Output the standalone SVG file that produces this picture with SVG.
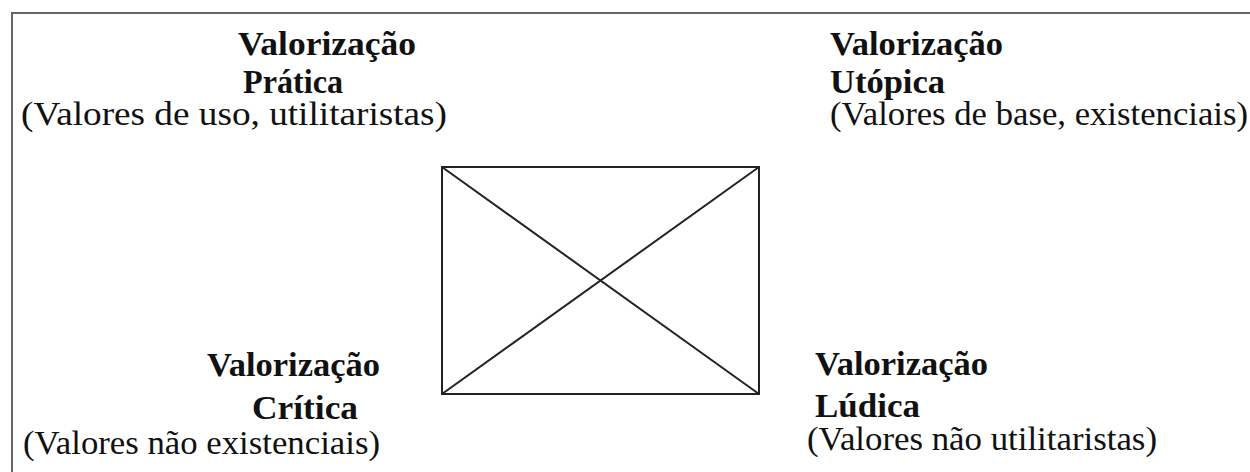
<svg xmlns="http://www.w3.org/2000/svg" width="1250" height="472" viewBox="0 0 1250 472">
  <style>
    text { font-family: "Liberation Serif", "Times New Roman", serif; font-size: 33px; fill: #111; }
    .title { font-weight: bold; }
    .frame { stroke: #666; stroke-width: 2; fill: none; }
    .edge { stroke: #222; stroke-width: 2; fill: none; }
  </style>
  <rect width="1250" height="472" fill="#fff"/>
  <!-- page frame: top and left edges -->
  <path class="frame" d="M12,472 V13 H1250"/>

  <g id="connectors">
    <rect class="edge" x="442" y="167" width="317" height="227"/>
    <line class="edge" x1="442" y1="167" x2="759" y2="394"/>
    <line class="edge" x1="759" y1="167" x2="442" y2="394"/>
  </g>

  <g id="pratica">
    <text class="title" x="238" y="55" textLength="178" lengthAdjust="spacingAndGlyphs">Valorização</text>
    <text class="title" x="243" y="93" textLength="100" lengthAdjust="spacingAndGlyphs">Prática</text>
    <text x="21" y="125" textLength="426" lengthAdjust="spacingAndGlyphs">(Valores de uso, utilitaristas)</text>
  </g>

  <g id="utopica">
    <text class="title" x="830" y="55" textLength="173" lengthAdjust="spacingAndGlyphs">Valorização</text>
    <text class="title" x="830" y="93" textLength="115" lengthAdjust="spacingAndGlyphs">Utópica</text>
    <text x="830" y="125" textLength="418" lengthAdjust="spacingAndGlyphs">(Valores de base, existenciais)</text>
  </g>

  <g id="critica">
    <text class="title" x="207" y="376" textLength="173" lengthAdjust="spacingAndGlyphs">Valorização</text>
    <text class="title" x="252" y="419" textLength="106" lengthAdjust="spacingAndGlyphs">Crítica</text>
    <text x="23" y="454" textLength="357" lengthAdjust="spacingAndGlyphs">(Valores não existenciais)</text>
  </g>

  <g id="ludica">
    <text class="title" x="815" y="375" textLength="173" lengthAdjust="spacingAndGlyphs">Valorização</text>
    <text class="title" x="815" y="417" textLength="105" lengthAdjust="spacingAndGlyphs">Lúdica</text>
    <text x="807" y="450" textLength="350" lengthAdjust="spacingAndGlyphs">(Valores não utilitaristas)</text>
  </g>
</svg>
